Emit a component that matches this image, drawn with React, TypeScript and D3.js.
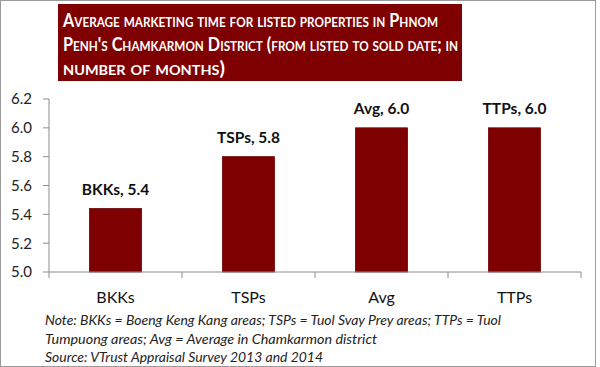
import React, { useEffect, useRef } from 'react';
import * as d3 from 'd3';

const categories = ['BKKs', 'TSPs', 'Avg', 'TTPs'];
const months = [5.44, 5.8, 6.0, 6.0];
const yTicks = [5.0, 5.2, 5.4, 5.6, 5.8, 6.0, 6.2];

const titleLines = [
  'Average marketing time for listed properties in Phnom',
  "Penh's Chamkarmon District (from listed to sold date; in",
  'number of months)',
];
const noteLines = [
  'Note: BKKs = Boeng Keng Kang areas; TSPs = Tuol Svay Prey areas; TTPs = Tuol',
  'Tumpuong areas; Avg = Average in Chamkarmon district',
  'Source: VTrust Appraisal Survey 2013 and 2014',
];

const W = 600;
const H = 367;
const RED = '#7f0000';
const FONT = 'Lato, "Open Sans", sans-serif';

const App: React.FC = () => {
  const svgRef = useRef<SVGSVGElement>(null);

  useEffect(() => {
    const svg = d3.select(svgRef.current)
      .attr('width', W)
      .attr('height', H)
      .attr('style', 'position:absolute;left:0;top:0;background:#fff');

    // outer frame
    svg.append('rect')
      .attr('x', 0.5).attr('y', 0.5)
      .attr('width', 595).attr('height', 366)
      .attr('fill', '#fff')
      .attr('stroke', '#9a9a9a');

    // title box
    svg.append('rect')
      .attr('x', 58).attr('y', 4)
      .attr('width', 404).attr('height', 77)
      .attr('fill', RED);

    const titleWidths = [375, 395, 162];
    svg.selectAll('text.title')
      .data(titleLines)
      .join('text')
      .attr('class', 'title')
      .attr('x', 63)
      .attr('y', (_, i) => 27 + i * 24)
      .attr('fill', '#fff')
      .attr('font-family', FONT)
      .attr('font-weight', 'bold')
      .attr('font-size', 18)
      .attr('font-variant', 'small-caps')
      .attr('textLength', (_, i) => titleWidths[i])
      .attr('lengthAdjust', 'spacingAndGlyphs')
      .text((d) => d);

    const x = d3.scaleBand<string>()
      .domain(categories)
      .range([49, 581]);

    const y = d3.scaleLinear()
      .domain([5.0, 6.2])
      .range([272, 99]);

    const barW = 52;

    // y axis
    svg.append('line')
      .attr('x1', 49).attr('x2', 49)
      .attr('y1', y(6.2)).attr('y2', y(5.0))
      .attr('stroke', '#8c8c8c');

    svg.selectAll('line.ytick')
      .data(yTicks)
      .join('line')
      .attr('class', 'ytick')
      .attr('x1', 43).attr('x2', 49)
      .attr('y1', (d) => y(d)).attr('y2', (d) => y(d))
      .attr('stroke', '#8c8c8c');

    svg.selectAll('text.ylab')
      .data(yTicks)
      .join('text')
      .attr('class', 'ylab')
      .attr('x', 32)
      .attr('y', (d) => y(d))
      .attr('dy', '0.36em')
      .attr('text-anchor', 'end')
      .attr('font-family', FONT)
      .attr('font-size', 15)
      .attr('fill', '#222')
      .text((d) => d.toFixed(1));

    // bars
    svg.selectAll('rect.bar')
      .data(months)
      .join('rect')
      .attr('class', 'bar')
      .attr('x', (_, i) => x(categories[i])! + x.bandwidth() / 2 - barW / 2)
      .attr('y', (d) => y(d))
      .attr('width', barW)
      .attr('height', (d) => y(5.0) - y(d))
      .attr('fill', RED)
      .attr('stroke', '#6a0000')
      .attr('stroke-width', 0.8);

    // x axis
    svg.append('line')
      .attr('x1', 49).attr('x2', 581)
      .attr('y1', y(5.0)).attr('y2', y(5.0))
      .attr('stroke', '#8c8c8c');

    const bounds = categories.map((c) => x(c)!).concat([581]);
    svg.selectAll('line.xtick')
      .data(bounds)
      .join('line')
      .attr('class', 'xtick')
      .attr('x1', (d) => d).attr('x2', (d) => d)
      .attr('y1', y(5.0)).attr('y2', y(5.0) + 6)
      .attr('stroke', '#8c8c8c');

    svg.selectAll('text.xlab')
      .data(categories)
      .join('text')
      .attr('class', 'xlab')
      .attr('x', (d) => x(d)! + x.bandwidth() / 2)
      .attr('y', 303)
      .attr('text-anchor', 'middle')
      .attr('font-family', FONT)
      .attr('font-size', 16)
      .attr('fill', '#111')
      .text((d) => d);

    // data labels
    svg.selectAll('text.vlab')
      .data(months)
      .join('text')
      .attr('class', 'vlab')
      .attr('x', (_, i) => x(categories[i])! + x.bandwidth() / 2)
      .attr('y', (d) => y(d) - 14)
      .attr('text-anchor', 'middle')
      .attr('font-family', FONT)
      .attr('font-weight', 'bold')
      .attr('font-size', 15.5)
      .attr('fill', '#111')
      .text((d, i) => `${categories[i]}, ${d.toFixed(1)}`);

    // notes
    const noteWidths = [456, 332, 278];
    svg.selectAll('text.note')
      .data(noteLines)
      .join('text')
      .attr('class', 'note')
      .attr('x', 45)
      .attr('y', (_, i) => 325 + i * 18.5)
      .attr('font-family', FONT)
      .attr('font-style', 'italic')
      .attr('font-size', 13)
      .attr('fill', '#222')
      .attr('textLength', (_, i) => noteWidths[i])
      .attr('lengthAdjust', 'spacingAndGlyphs')
      .text((d) => d);

    return () => {
      svg.selectAll('*').remove();
    };
  }, []);

  return <svg ref={svgRef}></svg>;
};

export default App;
